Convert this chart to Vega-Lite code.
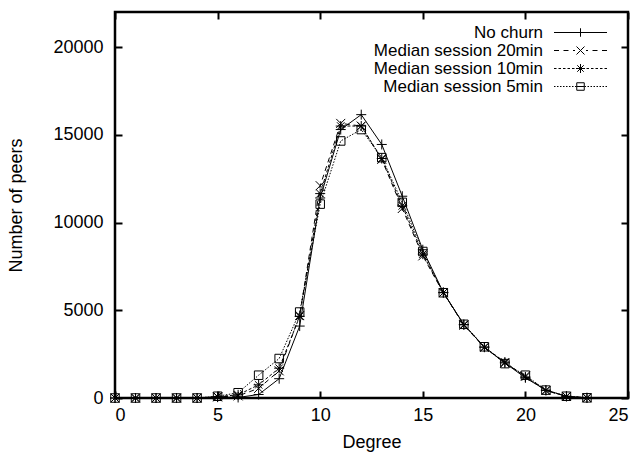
{
  "$schema": "https://vega.github.io/schema/vega-lite/v6.json",
  "width": 513,
  "height": 386,
  "autosize": {"type": "none"},
  "padding": {"left": 115, "top": 12, "right": 15, "bottom": 55},
  "background": "white",
  "config": {
    "font": "Liberation Sans",
    "view": {"stroke": "black", "strokeWidth": 2.5},
    "axis": {
      "domain": false,
      "grid": false,
      "tickColor": "black",
      "tickWidth": 2,
      "tickSize": -7,
      "labelColor": "black",
      "labelFontSize": 18,
      "labelFont": "Liberation Sans",
      "titleColor": "black",
      "titleFontSize": 18,
      "titleFontWeight": "normal",
      "titleFont": "Liberation Sans"
    },
    "legend": {
      "title": null,
      "orient": "none",
      "legendX": 457,
      "legendY": 12,
      "labelAlign": "right",
      "labelOffset": -46,
      "labelFontSize": 17,
      "labelFont": "Liberation Sans",
      "labelColor": "black",
      "labelLimit": 400,
      "symbolSize": 100,
      "symbolStrokeWidth": 1,
      "symbolStrokeColor": "black",
      "symbolFillColor": "transparent",
      "symbolOpacity": 1,
      "rowPadding": 0
    }
  },
  "data": {
    "values": [
      {"series": "No churn", "degree": 0, "peers": 0},
      {"series": "No churn", "degree": 1, "peers": 0},
      {"series": "No churn", "degree": 2, "peers": 0},
      {"series": "No churn", "degree": 3, "peers": 0},
      {"series": "No churn", "degree": 4, "peers": 0},
      {"series": "No churn", "degree": 5, "peers": 50},
      {"series": "No churn", "degree": 6, "peers": 30},
      {"series": "No churn", "degree": 7, "peers": 200},
      {"series": "No churn", "degree": 8, "peers": 1100},
      {"series": "No churn", "degree": 9, "peers": 4100},
      {"series": "No churn", "degree": 10, "peers": 11400},
      {"series": "No churn", "degree": 11, "peers": 15300},
      {"series": "No churn", "degree": 12, "peers": 16150},
      {"series": "No churn", "degree": 13, "peers": 14450},
      {"series": "No churn", "degree": 14, "peers": 11500},
      {"series": "No churn", "degree": 15, "peers": 8450},
      {"series": "No churn", "degree": 16, "peers": 6020},
      {"series": "No churn", "degree": 17, "peers": 4180},
      {"series": "No churn", "degree": 18, "peers": 2900},
      {"series": "No churn", "degree": 19, "peers": 2000},
      {"series": "No churn", "degree": 20, "peers": 1150},
      {"series": "No churn", "degree": 21, "peers": 450},
      {"series": "No churn", "degree": 22, "peers": 100},
      {"series": "No churn", "degree": 23, "peers": 10},
      {"series": "Median session 20min", "degree": 0, "peers": 0},
      {"series": "Median session 20min", "degree": 1, "peers": 0},
      {"series": "Median session 20min", "degree": 2, "peers": 0},
      {"series": "Median session 20min", "degree": 3, "peers": 0},
      {"series": "Median session 20min", "degree": 4, "peers": 0},
      {"series": "Median session 20min", "degree": 5, "peers": 60},
      {"series": "Median session 20min", "degree": 6, "peers": 120},
      {"series": "Median session 20min", "degree": 7, "peers": 550},
      {"series": "Median session 20min", "degree": 8, "peers": 1550},
      {"series": "Median session 20min", "degree": 9, "peers": 4700},
      {"series": "Median session 20min", "degree": 10, "peers": 12100},
      {"series": "Median session 20min", "degree": 11, "peers": 15650},
      {"series": "Median session 20min", "degree": 12, "peers": 15500},
      {"series": "Median session 20min", "degree": 13, "peers": 13600},
      {"series": "Median session 20min", "degree": 14, "peers": 10800},
      {"series": "Median session 20min", "degree": 15, "peers": 8100},
      {"series": "Median session 20min", "degree": 16, "peers": 6000},
      {"series": "Median session 20min", "degree": 17, "peers": 4150},
      {"series": "Median session 20min", "degree": 18, "peers": 2880},
      {"series": "Median session 20min", "degree": 19, "peers": 2000},
      {"series": "Median session 20min", "degree": 20, "peers": 1250},
      {"series": "Median session 20min", "degree": 21, "peers": 430},
      {"series": "Median session 20min", "degree": 22, "peers": 90},
      {"series": "Median session 20min", "degree": 23, "peers": 10},
      {"series": "Median session 10min", "degree": 0, "peers": 0},
      {"series": "Median session 10min", "degree": 1, "peers": 0},
      {"series": "Median session 10min", "degree": 2, "peers": 0},
      {"series": "Median session 10min", "degree": 3, "peers": 0},
      {"series": "Median session 10min", "degree": 4, "peers": 0},
      {"series": "Median session 10min", "degree": 5, "peers": 80},
      {"series": "Median session 10min", "degree": 6, "peers": 180},
      {"series": "Median session 10min", "degree": 7, "peers": 750},
      {"series": "Median session 10min", "degree": 8, "peers": 1700},
      {"series": "Median session 10min", "degree": 9, "peers": 4650},
      {"series": "Median session 10min", "degree": 10, "peers": 11650},
      {"series": "Median session 10min", "degree": 11, "peers": 15500},
      {"series": "Median session 10min", "degree": 12, "peers": 15500},
      {"series": "Median session 10min", "degree": 13, "peers": 13650},
      {"series": "Median session 10min", "degree": 14, "peers": 10950},
      {"series": "Median session 10min", "degree": 15, "peers": 8200},
      {"series": "Median session 10min", "degree": 16, "peers": 6000},
      {"series": "Median session 10min", "degree": 17, "peers": 4180},
      {"series": "Median session 10min", "degree": 18, "peers": 2900},
      {"series": "Median session 10min", "degree": 19, "peers": 2050},
      {"series": "Median session 10min", "degree": 20, "peers": 1200},
      {"series": "Median session 10min", "degree": 21, "peers": 430},
      {"series": "Median session 10min", "degree": 22, "peers": 90},
      {"series": "Median session 10min", "degree": 23, "peers": 10},
      {"series": "Median session 5min", "degree": 0, "peers": 0},
      {"series": "Median session 5min", "degree": 1, "peers": 0},
      {"series": "Median session 5min", "degree": 2, "peers": 0},
      {"series": "Median session 5min", "degree": 3, "peers": 0},
      {"series": "Median session 5min", "degree": 4, "peers": 0},
      {"series": "Median session 5min", "degree": 5, "peers": 100},
      {"series": "Median session 5min", "degree": 6, "peers": 300},
      {"series": "Median session 5min", "degree": 7, "peers": 1300},
      {"series": "Median session 5min", "degree": 8, "peers": 2250},
      {"series": "Median session 5min", "degree": 9, "peers": 4900},
      {"series": "Median session 5min", "degree": 10, "peers": 11050},
      {"series": "Median session 5min", "degree": 11, "peers": 14650},
      {"series": "Median session 5min", "degree": 12, "peers": 15300},
      {"series": "Median session 5min", "degree": 13, "peers": 13700},
      {"series": "Median session 5min", "degree": 14, "peers": 11150},
      {"series": "Median session 5min", "degree": 15, "peers": 8350},
      {"series": "Median session 5min", "degree": 16, "peers": 6000},
      {"series": "Median session 5min", "degree": 17, "peers": 4200},
      {"series": "Median session 5min", "degree": 18, "peers": 2920},
      {"series": "Median session 5min", "degree": 19, "peers": 1960},
      {"series": "Median session 5min", "degree": 20, "peers": 1300},
      {"series": "Median session 5min", "degree": 21, "peers": 450},
      {"series": "Median session 5min", "degree": 22, "peers": 100},
      {"series": "Median session 5min", "degree": 23, "peers": 10}
    ]
  },
  "resolve": {"axis": {"x": "independent", "y": "independent"}, "scale": {"shape": "independent"}, "legend": {"shape": "independent"}},
  "layer": [
    {
      "transform": [{"filter": "datum.series === 'No churn'"}],
      "mark": {"type": "line", "color": "black", "strokeWidth": 1, "clip": true},
      "encoding": {
        "x": {
          "field": "degree", "type": "quantitative",
          "scale": {"domain": [0, 25], "nice": false, "zero": false},
          "axis": {"orient": "bottom", "values": [0, 5, 10, 15, 20, 25], "title": "Degree", "labelPadding": 15, "titlePadding": 9}
        },
        "y": {
          "field": "peers", "type": "quantitative",
          "scale": {"domain": [0, 22000], "nice": false},
          "axis": {"orient": "left", "values": [0, 5000, 10000, 15000, 20000], "format": "d", "title": "Number of peers", "labelPadding": 19, "titlePadding": 27}
        }
      }
    },
    {
      "transform": [{"filter": "datum.series === 'Median session 20min'"}],
      "mark": {"type": "line", "color": "black", "strokeWidth": 1, "strokeDash": [5, 4], "clip": true},
      "encoding": {
        "x": {"field": "degree", "type": "quantitative", "axis": null},
        "y": {"field": "peers", "type": "quantitative", "axis": null}
      }
    },
    {
      "transform": [{"filter": "datum.series === 'Median session 10min'"}],
      "mark": {"type": "line", "color": "black", "strokeWidth": 1, "strokeDash": [3, 2], "clip": true},
      "encoding": {
        "x": {"field": "degree", "type": "quantitative", "axis": null},
        "y": {"field": "peers", "type": "quantitative", "axis": null}
      }
    },
    {
      "transform": [{"filter": "datum.series === 'Median session 5min'"}],
      "mark": {"type": "line", "color": "black", "strokeWidth": 1, "strokeDash": [1.5, 1.5], "clip": true},
      "encoding": {
        "x": {"field": "degree", "type": "quantitative", "axis": null},
        "y": {"field": "peers", "type": "quantitative", "axis": null}
      }
    },
    {
      "mark": {"type": "point", "filled": false, "color": "black", "strokeWidth": 1, "size": 100, "opacity": 1},
      "encoding": {
        "x": {
          "field": "degree", "type": "quantitative",
          "axis": {"orient": "top", "values": [0, 5, 10, 15, 20, 25], "labels": false, "title": null}
        },
        "y": {
          "field": "peers", "type": "quantitative",
          "axis": {"orient": "right", "values": [0, 5000, 10000, 15000, 20000], "labels": false, "title": null}
        },
        "shape": {
          "field": "series", "type": "nominal",
          "scale": {
            "domain": ["No churn", "Median session 20min", "Median session 10min", "Median session 5min"],
            "range": [
              "M-1,0L1,0M0,-1L0,1",
              "M-0.9,-0.9L0.9,0.9M-0.9,0.9L0.9,-0.9",
              "M-1,0L1,0M0,-1L0,1M-0.75,-0.75L0.75,0.75M-0.75,0.75L0.75,-0.75",
              "M-0.85,-0.85L0.85,-0.85L0.85,0.85L-0.85,0.85Z"
            ]
          },
          "legend": null
        }
      }
    },
    {
      "transform": [{"filter": "datum.degree < 0"}],
      "mark": {"type": "point", "filled": false, "color": "black", "strokeWidth": 1, "opacity": 1},
      "encoding": {
        "x": {"field": "degree", "type": "quantitative", "axis": null},
        "y": {"field": "peers", "type": "quantitative", "axis": null},
        "shape": {
          "field": "series", "type": "nominal",
          "scale": {
            "domain": ["No churn", "Median session 20min", "Median session 10min", "Median session 5min"],
            "range": [
              "M-5.3,0L5.3,0M0,-0.85L0,0.85",
              "M-5.3,0L-4.3,0M-3.4,0L-2.4,0M-1.5,0L-1.1,0M1.1,0L1.5,0M2.4,0L3.4,0M4.3,0L5.3,0M-0.8,-0.8L0.8,0.8M-0.8,0.8L0.8,-0.8",
              "M-5.3,0L-4.8,0M-4.4,0L-3.9,0M-3.5,0L-3,0M-2.6,0L-2.1,0M-1.7,0L-1.2,0M1.2,0L1.7,0M2.1,0L2.6,0M3,0L3.5,0M3.9,0L4.4,0M4.8,0L5.3,0M-0.9,0L0.9,0M0,-0.9L0,0.9M-0.65,-0.65L0.65,0.65M-0.65,0.65L0.65,-0.65",
              "M-5.3,0L-5,0M-4.7,0L-4.4,0M-4.1,0L-3.8,0M-3.5,0L-3.2,0M-2.9,0L-2.6,0M-2.3,0L-2,0M-1.7,0L-1.4,0M-1.1,0L-0.8,0M0.8,0L1.1,0M1.4,0L1.7,0M2,0L2.3,0M2.6,0L2.9,0M3.2,0L3.5,0M3.8,0L4.1,0M4.4,0L4.7,0M5,0L5.3,0M-0.75,-0.75L0.75,-0.75L0.75,0.75L-0.75,0.75ZM-0.75,0L0.75,0"
            ]
          },
          "legend": {}
        }
      }
    }
  ]
}
